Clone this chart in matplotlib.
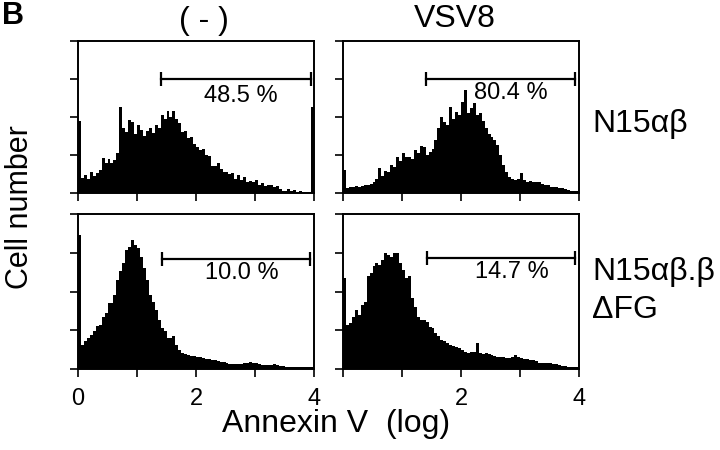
import numpy as np
import matplotlib
matplotlib.use('Agg')
import matplotlib.pyplot as plt

plt.rcParams['font.family'] = ['Liberation Sans', 'DejaVu Sans']

# histogram heights (y units 0-4), one value per 0.05 log-decade bin, 0 -> 4
neg_n15 = [1.90, 0.40, 0.47, 0.38, 0.55, 0.45, 0.52, 0.60, 0.92, 0.80,
           0.90, 0.78, 0.88, 1.05, 2.27, 1.70, 1.60, 1.92, 1.88, 1.55,
           1.78, 1.65, 1.50, 1.62, 1.70, 1.58, 1.80, 1.72, 2.05, 1.95,
           2.15, 2.00, 2.15, 1.95, 1.85, 1.60, 1.62, 1.45, 1.48, 1.30,
           1.20, 1.12, 1.15, 1.00, 0.98, 0.72, 0.70, 0.80, 0.62, 0.55,
           0.55, 0.50, 0.52, 0.38, 0.48, 0.35, 0.42, 0.30, 0.32, 0.28,
           0.35, 0.22, 0.26, 0.18, 0.22, 0.20, 0.15, 0.18, 0.10, 0.05,
           0.04, 0.10, 0.06, 0.08, 0.03, 0.04, 0.02, 0.02, 0.02, 2.26]
vsv_n15 = [0.60, 0.12, 0.17, 0.15, 0.18, 0.17, 0.19, 0.20, 0.21, 0.24,
           0.30, 0.38, 0.67, 0.45, 0.58, 0.55, 0.74, 0.68, 0.96, 0.85,
           1.05, 0.95, 0.96, 0.90, 1.13, 1.05, 1.25, 1.20, 1.00, 1.08,
           1.17, 1.40, 1.70, 2.00, 1.88, 1.80, 2.27, 1.95, 2.14, 2.05,
           2.40, 2.71, 2.10, 2.25, 2.36, 2.05, 2.10, 1.90, 1.70, 1.55,
           1.48, 1.40, 1.26, 1.00, 0.74, 0.55, 0.43, 0.38, 0.34, 0.36,
           0.52, 0.35, 0.30, 0.32, 0.30, 0.28, 0.28, 0.24, 0.21, 0.20,
           0.17, 0.15, 0.15, 0.12, 0.12, 0.10, 0.08, 0.06, 0.05, 0.05]
neg_dfg = [3.46, 0.62, 0.71, 0.79, 0.88, 0.97, 1.11, 1.14, 1.35, 1.44,
           1.70, 1.70, 1.91, 2.30, 2.52, 2.73, 3.08, 3.16, 3.34, 3.20,
           3.12, 2.90, 2.60, 2.30, 1.91, 1.74, 1.53, 1.27, 1.05, 0.97,
           0.79, 0.79, 0.84, 0.62, 0.49, 0.41, 0.39, 0.36, 0.34, 0.33,
           0.32, 0.30, 0.28, 0.27, 0.25, 0.24, 0.22, 0.20, 0.19, 0.17,
           0.15, 0.14, 0.13, 0.12, 0.12, 0.14, 0.15, 0.16, 0.17, 0.16,
           0.15, 0.13, 0.11, 0.10, 0.10, 0.11, 0.12, 0.10, 0.08, 0.07,
           0.06, 0.06, 0.06, 0.06, 0.06, 0.06, 0.06, 0.06, 0.06, 0.06]
vsv_dfg = [2.34, 1.14, 1.18, 1.35, 1.53, 1.40, 1.66, 1.74, 2.39, 2.47,
           2.65, 2.73, 2.69, 2.82, 2.99, 2.95, 2.90, 3.00, 3.00, 2.73,
           2.56, 2.34, 2.39, 1.83, 1.61, 1.35, 1.27, 1.27, 1.22, 1.09,
           1.05, 0.92, 0.84, 0.75, 0.71, 0.66, 0.62, 0.59, 0.56, 0.53,
           0.49, 0.45, 0.41, 0.43, 0.45, 0.66, 0.41, 0.40, 0.41, 0.38,
           0.36, 0.34, 0.32, 0.31, 0.30, 0.29, 0.28, 0.32, 0.36, 0.30,
           0.28, 0.26, 0.25, 0.24, 0.23, 0.20, 0.16, 0.15, 0.15, 0.15,
           0.15, 0.14, 0.13, 0.10, 0.08, 0.07, 0.06, 0.06, 0.06, 0.06]

col_titles = ['( - )', 'VSV8']
percents = [['48.5 %', '80.4 %'], ['10.0 %', '14.7 %']]
gate_lo = [[1.40, 1.41], [1.42, 1.42]]
gate_hi = [[3.95, 3.93], [3.93, 3.93]]
gate_y = [[3.0, 3.0], [2.84, 2.86]]
pct_x = [[2.76, 2.85], [2.77, 2.87]]
pct_y = [[2.55, 2.63], [2.48, 2.50]]
hists = [[neg_n15, vsv_n15], [neg_dfg, vsv_dfg]]

edges = np.linspace(0, 4, 81)

fig = plt.figure(figsize=(7.2, 4.5), dpi=100)
lefts = [78 / 720, 343 / 720]
bottoms = [1 - 193 / 450, 1 - 369 / 450]
w = 236 / 720
hts = [152 / 450, 155 / 450]

for r in range(2):
    for c in range(2):
        ax = fig.add_axes([lefts[c], bottoms[r], w, hts[r]])
        ax.stairs(hists[r][c], edges, fill=True, color='black', linewidth=0)
        ax.set_xlim(0, 4)
        ax.set_ylim(0, 4)
        ax.set_xticks([0, 1, 2, 3, 4])
        ax.set_yticks([0, 1, 2, 3, 4])
        ax.set_yticklabels([])
        if r == 1:
            labels = ['0', '', '2', '', '4'] if c == 0 else ['', '', '2', '', '4']
            ax.set_xticklabels(labels, fontsize=17)
        else:
            ax.set_xticklabels([])
        ax.tick_params(direction='out', length=6, width=1.2, pad=8)
        for s in ax.spines.values():
            s.set_linewidth(1.4)
        ax.plot([gate_lo[r][c], gate_hi[r][c]], [gate_y[r][c]] * 2,
                color='black', lw=1.6)
        ax.plot([gate_lo[r][c], gate_hi[r][c]], [gate_y[r][c]] * 2,
                ls='none', marker='|', ms=10, mew=1.6, color='black')
        ax.text(pct_x[r][c], pct_y[r][c], percents[r][c], fontsize=17,
                ha='center', va='center')

fig.text(204 / 720, 1 - 21 / 450, col_titles[0], fontsize=23,
         ha='center', va='center')
fig.text(455 / 720, 1 - 19 / 450, col_titles[1], fontsize=23,
         ha='center', va='center')
fig.text(2 / 720, 1 - 16 / 450, 'B', fontsize=22, fontweight='bold',
         ha='left', va='center')
fig.text(20 / 720, 1 - 207 / 450, 'Cell number', fontsize=22,
         rotation=90, ha='center', va='center')
fig.text(336 / 720, 1 - 424 / 450, 'Annexin V  (log)', fontsize=23,
         ha='center', va='center')
fig.text(592 / 720, 1 - 124 / 450, 'N15αβ', fontsize=23, ha='left', va='center')
fig.text(592 / 720, 1 - 272 / 450, 'N15αβ.β', fontsize=23, ha='left', va='center')
fig.text(592 / 720, 1 - 310 / 450, 'ΔFG', fontsize=23, ha='left', va='center')

fig.savefig('out.png', dpi=100, facecolor='white')
